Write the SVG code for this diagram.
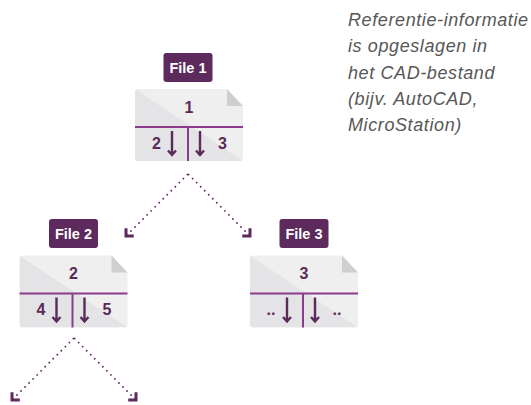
<svg xmlns="http://www.w3.org/2000/svg" xmlns:xlink="http://www.w3.org/1999/xlink" width="531" height="405" viewBox="0 0 531 405">
<style>
.lbl{fill:#5c2a5c}
.lbltxt{font-family:"Liberation Sans",Arial,sans-serif;font-weight:bold;font-size:14.5px;fill:#ffffff;text-anchor:middle}
.num{font-family:"Liberation Sans",Arial,sans-serif;font-weight:bold;font-size:16px;fill:#5a2a5a;text-anchor:middle}
.dn{fill:none;stroke:#5a2a5a;stroke-width:2.4}
.conn{fill:none;stroke:#6a2f6a;stroke-width:1.7;stroke-dasharray:1.7 4}
.note{font-family:"Liberation Sans",Arial,sans-serif;font-style:italic;font-size:18px;fill:#575757;letter-spacing:0.6px}
</style>
<defs>
<clipPath id="docclip"><path d="M3,0 H92 L108,17 V69 Q108,72 105,72 H3 Q0,72 0,69 V3 Q0,0 3,0 Z"/></clipPath>
<symbol id="doc" overflow="visible">
<path d="M3,0 H92 L108,17 V69 Q108,72 105,72 H3 Q0,72 0,69 V3 Q0,0 3,0 Z" fill="#efefef"/>
<polygon points="0,0 108,72 0,72" fill="#e4e4e6" clip-path="url(#docclip)"/>
<polygon points="92,0 92,17 108,17" fill="#cfcfcf"/>
<line x1="0" y1="38" x2="108" y2="38" stroke="#8b3b8b" stroke-width="2"/>
<line x1="53" y1="38" x2="53" y2="72" stroke="#8b3b8b" stroke-width="2"/>
<path class="dn" d="M37,42 V66 M33,61.5 L37,66 L41,61.5"/>
<path class="dn" d="M65,42 V66 M61,61.5 L65,66 L69,61.5"/>
</symbol>
<marker id="ah" markerUnits="userSpaceOnUse" markerWidth="16" markerHeight="16" refX="0" refY="0" viewBox="-8 -8 16 16" orient="auto" overflow="visible">
<path d="M-5.5,-5.5 L0,0 L-5.5,5.5" fill="none" stroke="#5c2a5c" stroke-width="3" stroke-linejoin="miter"/>
</marker>
</defs>
<rect width="531" height="405" fill="#ffffff"/>
<g id="connectors">
<line class="conn" x1="188" y1="174" x2="126" y2="236" marker-end="url(#ah)"/>
<line class="conn" x1="188" y1="174" x2="250" y2="236" marker-end="url(#ah)"/>
<line class="conn" x1="74" y1="338" x2="12" y2="400" marker-end="url(#ah)"/>
<line class="conn" x1="74" y1="338" x2="136" y2="400" marker-end="url(#ah)"/>
</g>
<g id="file1">
<rect class="lbl" x="163.5" y="53" width="49" height="29" rx="3"/>
<text class="lbltxt" x="188" y="72.5">File 1</text>
<use xlink:href="#doc" x="135" y="89"/>
<text class="num" x="189" y="112.5">1</text>
<text class="num" x="156.5" y="148.5">2</text>
<text class="num" x="222.5" y="148.5">3</text>
</g>
<g id="file2">
<rect class="lbl" x="49" y="219" width="49" height="29" rx="3"/>
<text class="lbltxt" x="73.5" y="238.5">File 2</text>
<use xlink:href="#doc" x="19.5" y="255.5"/>
<text class="num" x="73.5" y="279">2</text>
<text class="num" x="41" y="315">4</text>
<text class="num" x="107" y="315">5</text>
</g>
<g id="file3">
<rect class="lbl" x="279.5" y="219" width="49" height="29" rx="3"/>
<text class="lbltxt" x="304" y="238.5">File 3</text>
<use xlink:href="#doc" x="250" y="255.5"/>
<text class="num" x="304" y="279">3</text>
<text class="num" x="271" y="315">..</text>
<text class="num" x="337" y="315">..</text>
</g>
<g id="note">
<text class="note" x="348" y="26">Referentie-informatie</text>
<text class="note" x="348" y="52">is opgeslagen in</text>
<text class="note" x="348" y="79">het CAD-bestand</text>
<text class="note" x="348" y="105">(bijv. AutoCAD,</text>
<text class="note" x="348" y="131">MicroStation)</text>
</g>
</svg>
